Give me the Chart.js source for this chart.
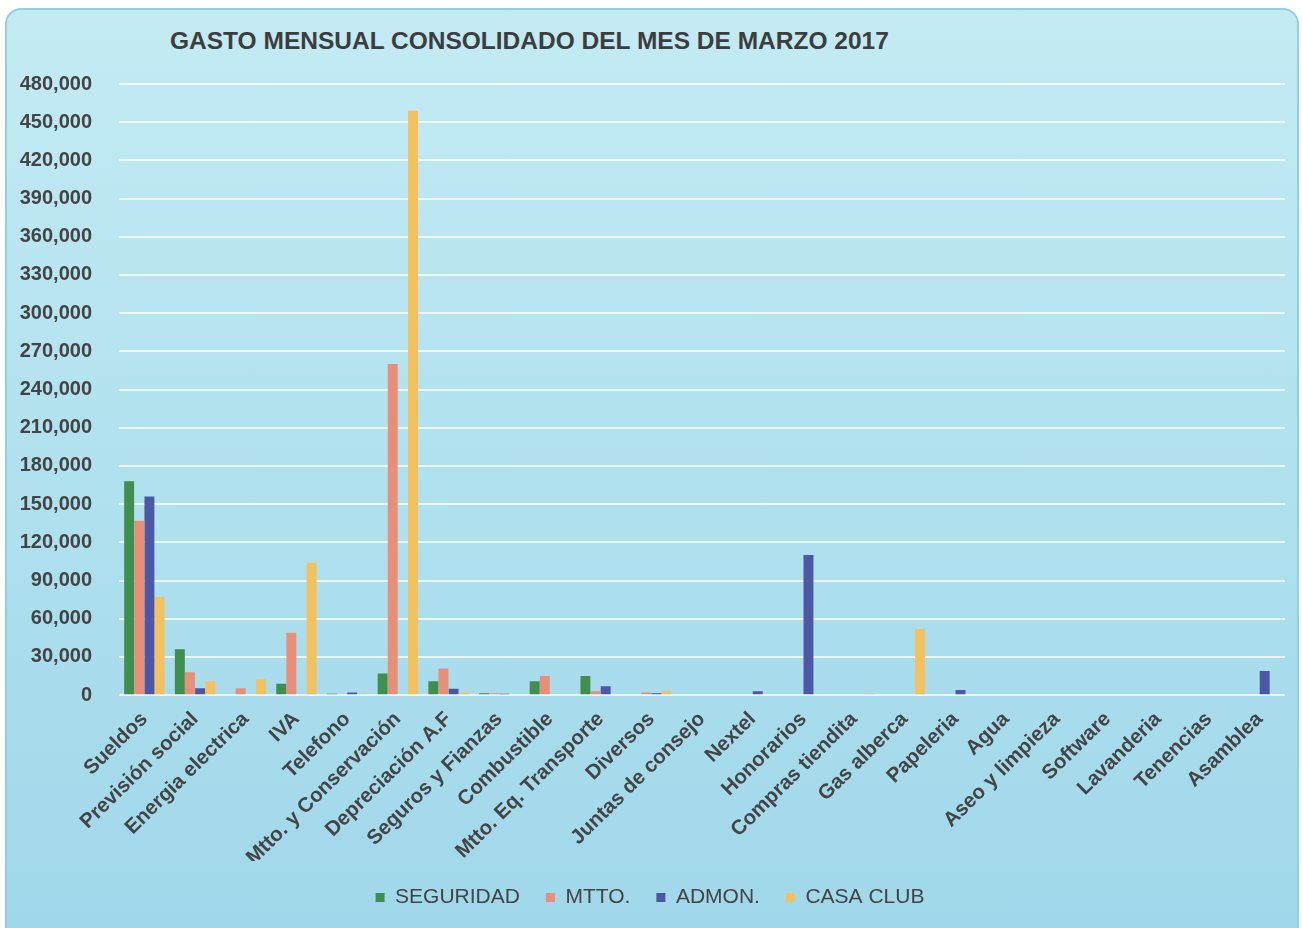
<!DOCTYPE html>
<html>
<head>
<meta charset="utf-8">
<script src="https://cdn.jsdelivr.net/npm/chart.js@4/dist/chart.umd.min.js"></script>
<style>
  html, body { margin: 0; padding: 0; background: #ffffff; overflow: hidden; }
  #card {
    position: absolute; left: 5px; top: 8px; width: 1290px; height: 940px;
    border: 2px solid #8fd0e3; border-radius: 16px;
    background: linear-gradient(180deg, #c4ebf4 0%, #b2e2ef 45%, #9fd7ea 100%);
  }
  #title {
    position: absolute; left: 170px; top: 27px;
    font: bold 24.5px "Liberation Sans", Arial, sans-serif; color: #3d3d3d;
  }
  #wrap { position: absolute; left: 0; top: 0; width: 1302px; height: 928px; }
</style>
</head>
<body>
<div id="card"></div>
<div id="title">GASTO MENSUAL CONSOLIDADO DEL MES DE MARZO 2017</div>
<div id="wrap"><canvas id="barChart"></canvas></div>
<script>
/*
    Gasto mensual consolidado - marzo 2017
*/
var categories = ["Sueldos", "Previsión social", "Energia electrica", "IVA", "Telefono",
    "Mtto. y Conservación", "Depreciación A.F", "Seguros y Fianzas", "Combustible",
    "Mtto. Eq. Transporte", "Diversos", "Juntas de consejo", "Nextel", "Honorarios",
    "Compras tiendita", "Gas alberca", "Papeleria", "Agua", "Aseo y limpieza",
    "Software", "Lavanderia", "Tenencias", "Asamblea"];

var seguridad = [168000, 36000, 0, 9000, 1000, 17000, 11000, 1500, 11000, 15000, 0, 0, 0, 0, 0, 0, 0, 0, 0, 0, 0, 0, 0];
var mtto      = [137000, 18000, 5500, 49000, 0, 260000, 21000, 1500, 15000, 3000, 2000, 0, 0, 0, 0, 0, 0, 0, 0, 0, 0, 0, 0];
var admon     = [156000, 5500, 0, 0, 2000, 0, 5000, 1000, 0, 7000, 1500, 0, 3000, 110000, 0, 0, 4000, 0, 0, 0, 0, 0, 19000];
var casaClub  = [77000, 11000, 12500, 104000, 1000, 459000, 2000, 0, 0, 0, 3000, 0, 0, 0, 1000, 52000, 0, 0, 0, 0, 0, 0, 0];

var yTicks = [0, 30000, 60000, 90000, 120000, 150000, 180000, 210000, 240000, 270000,
    300000, 330000, 360000, 390000, 420000, 450000, 480000];

var txt = '#444444';
var ctx = document.getElementById("barChart").getContext('2d');
var myBarChart = new Chart(ctx, {
    type: 'bar',
    data: {
        labels: categories,
        datasets: [
            { label: "SEGURIDAD", data: seguridad, backgroundColor: "#3f8f4f" },
            { label: "MTTO.", data: mtto, backgroundColor: "#e98f78" },
            { label: "ADMON.", data: admon, backgroundColor: "#4c58a6" },
            { label: "CASA CLUB", data: casaClub, backgroundColor: "#f4c15c" }
        ]
    },
    options: {
        responsive: true,
        maintainAspectRatio: false,
        animation: false,
        layout: { padding: { left: 15, right: 17, top: 84, bottom: 10 } },
        datasets: { bar: { categoryPercentage: 0.8, barPercentage: 0.98 } },
        plugins: {
            title: { display: false },
            tooltip: { enabled: false },
            legend: {
                display: true,
                position: 'bottom',
                labels: {
                    color: txt,
                    font: { family: "Liberation Sans", size: 21 },
                    boxWidth: 9,
                    boxHeight: 9,
                    padding: 26
                }
            }
        },
        scales: {
            x: {
                grid: { display: false },
                border: { display: false },
                afterFit: function (scale) {
                    scale.height -= 13;
                    scale.paddingLeft = 0;
                },
                ticks: {
                    color: txt,
                    font: { family: "Liberation Sans", size: 20.5, weight: 'bold' },
                    minRotation: 44.5,
                    maxRotation: 44.5,
                    autoSkip: false,
                    padding: 4
                }
            },
            y: {
                min: 0,
                max: 480000,
                afterBuildTicks: function (axis) {
                    axis.ticks = yTicks.map(function (v) { return { value: v }; });
                },
                afterFit: function (scale) { scale.width = 104; },
                grid: { color: 'rgba(255,255,255,0.75)', lineWidth: 2, drawTicks: false },
                border: { display: false },
                ticks: {
                    color: txt,
                    padding: 27,
                    font: { family: "Liberation Sans", size: 20, weight: 'bold' },
                    callback: function (v) { return v.toLocaleString('en-US'); }
                }
            }
        }
    }
});
</script>
</body>
</html>
